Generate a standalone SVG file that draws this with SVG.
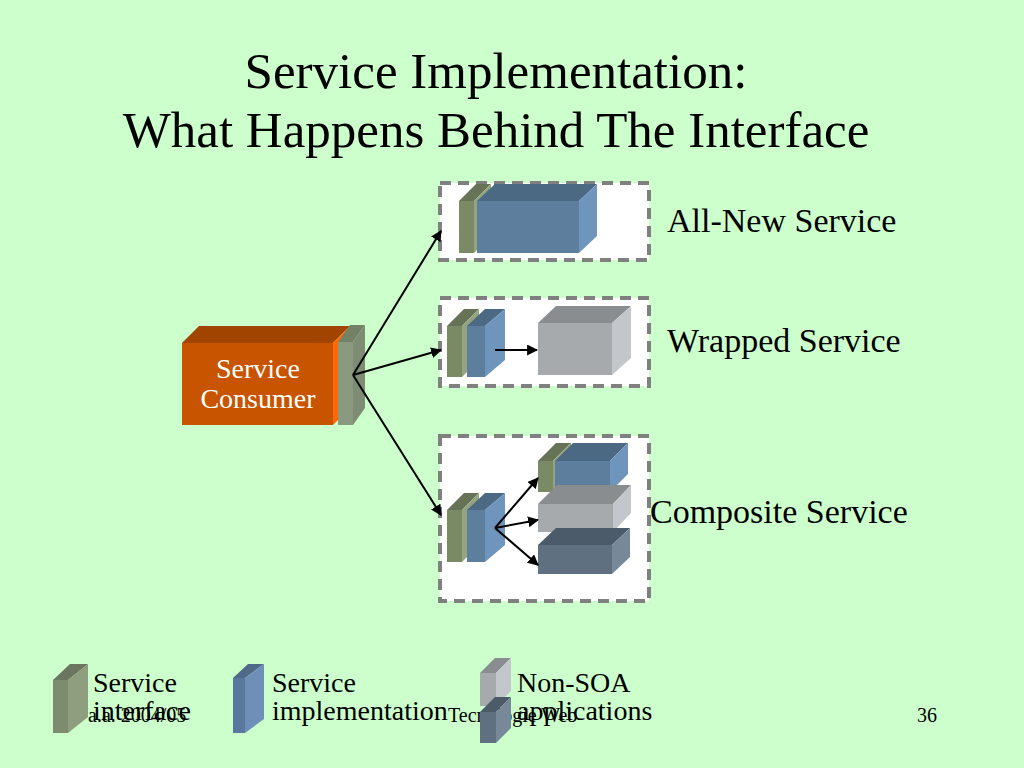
<svg xmlns="http://www.w3.org/2000/svg" width="1024" height="768" viewBox="0 0 1024 768">
<defs>
<style>
.t{font-family:"Liberation Serif","Times New Roman",serif;fill:#000}
.dash{fill:#fff;stroke:#808080;stroke-width:4;stroke-dasharray:11 7}
.conn{stroke:#000;stroke-width:2;fill:none;marker-end:url(#ah)}
.gf{fill:#7A8A64}.gt{fill:#667356}.gs{fill:#93A47E}
.bf{fill:#5E7E9E}.bt{fill:#4C6984}.bs{fill:#7095BC}
.af{fill:#A7AAAD}.at{fill:#8A8D90}.as{fill:#C3C7CB}
.df{fill:#5F7181}.dt{fill:#4B5B69}.ds{fill:#778898}
</style>
<marker id="ah" viewBox="0 0 10 10" refX="9" refY="5" markerWidth="5.5" markerHeight="5.5" orient="auto" markerUnits="strokeWidth">
<path d="M0,0 L10,5 L0,10 z" fill="#000"/>
</marker>
</defs>
<rect width="1024" height="768" fill="#CCFFCC"/>

<g id="title">
<text class="t" x="496" y="88" font-size="51" text-anchor="middle">Service Implementation:</text>
<text class="t" x="496" y="147" font-size="51" text-anchor="middle">What Happens Behind The Interface</text>
</g>

<g id="footer">
<text class="t" x="88" y="722" font-size="20">a.a. 2004/05</text>
<text class="t" x="448" y="722" font-size="20">Tecnologie Web</text>
<text class="t" x="917" y="722" font-size="20">36</text>
</g>

<g id="consumer">
<rect x="182" y="343" width="151" height="82" fill="#C85400"/>
<polygon points="182,343 199,326 350,326 333,343" fill="#A04400"/>
<polygon points="333,343 350,326 350,408 333,425" fill="#FF6A00"/>
<rect x="338" y="342" width="15" height="83" fill="#8A9A80"/>
<polygon points="338,342 350,325 365,325 353,342" fill="#738266"/>
<polygon points="353,342 365,325 365,408 353,425" fill="#7D8C72"/>
<text x="258" y="378" font-size="28" text-anchor="middle" fill="#fff" font-family="Liberation Serif, Times New Roman, serif">Service</text>
<text x="258" y="408" font-size="28" text-anchor="middle" fill="#fff" font-family="Liberation Serif, Times New Roman, serif">Consumer</text>
</g>

<g id="allnew">
<rect class="dash" x="440" y="183" width="209" height="77"/>
<rect class="gf" x="459" y="201" width="15" height="52"/>
<polygon class="gt" points="459,201 476,184 491,184 474,201"/>
<polygon class="gs" points="474,201 491,184 491,236 474,253"/>
<rect class="bf" x="477" y="201" width="102" height="52"/>
<polygon class="bt" points="477,201 495,184 597,184 579,201"/>
<polygon class="bs" points="579,201 597,184 597,236 579,253"/>
<text class="t" x="667" y="232" font-size="34">All-New Service</text>
</g>

<g id="wrapped">
<rect class="dash" x="440" y="298" width="209" height="88"/>
<rect class="gf" x="447" y="326" width="15" height="51"/>
<polygon class="gt" points="447,326 464,309 479,309 462,326"/>
<polygon class="gs" points="462,326 479,309 479,360 462,377"/>
<rect class="bf" x="467" y="326" width="18" height="51"/>
<polygon class="bt" points="467,326 485,309 505,309 485,326"/>
<polygon class="bs" points="485,326 505,309 505,360 485,377"/>
<rect class="af" x="538" y="323" width="74" height="52"/>
<polygon class="at" points="538,323 556,306 631,306 612,323"/>
<polygon class="as" points="612,323 631,306 631,358 612,375"/>
<text class="t" x="667" y="352" font-size="34">Wrapped Service</text>
</g>

<g id="composite">
<rect class="dash" x="440" y="436" width="209" height="165"/>
<rect class="gf" x="447" y="510" width="15" height="52"/>
<polygon class="gt" points="447,510 464,493 479,493 462,510"/>
<polygon class="gs" points="462,510 479,493 479,545 462,562"/>
<rect class="bf" x="467" y="510" width="18" height="52"/>
<polygon class="bt" points="467,510 485,493 505,493 485,510"/>
<polygon class="bs" points="485,510 505,493 505,545 485,562"/>
<rect class="gf" x="538" y="461" width="15" height="31"/>
<polygon class="gt" points="538,461 556,443 571,443 553,461"/>
<polygon class="gs" points="553,461 571,443 571,474 553,492"/>
<rect class="bf" x="555" y="461" width="55" height="31"/>
<polygon class="bt" points="555,461 573,443 628,443 610,461"/>
<polygon class="bs" points="610,461 628,443 628,474 610,492"/>
<rect class="af" x="538" y="504" width="75" height="28"/>
<polygon class="at" points="538,504 557,485 631,485 613,504"/>
<polygon class="as" points="613,504 631,485 631,513 613,532"/>
<rect class="df" x="538" y="545" width="74" height="29"/>
<polygon class="dt" points="538,545 556,528 630,528 612,545"/>
<polygon class="ds" points="612,545 630,528 630,557 612,574"/>
<text class="t" x="650" y="523" font-size="34">Composite Service</text>
</g>

<g id="connectors">
<line class="conn" x1="353" y1="375" x2="441" y2="231"/>
<line class="conn" x1="353" y1="375" x2="441" y2="350"/>
<line class="conn" x1="353" y1="375" x2="441" y2="515"/>
<line class="conn" x1="495" y1="350" x2="537" y2="350"/>
<line class="conn" x1="495" y1="528" x2="538" y2="478"/>
<line class="conn" x1="495" y1="528" x2="538" y2="520"/>
<line class="conn" x1="495" y1="528" x2="538" y2="565"/>
</g>

<g id="legend">
<rect fill="#7D8B6E" x="53" y="680" width="15" height="53"/>
<polygon fill="#6A7660" points="53,680 70,664 88,664 68,680"/>
<polygon fill="#8E9E7E" points="68,680 88,664 88,717 68,733"/>
<text class="t" x="93" y="692" font-size="28">Service</text>
<text class="t" x="93" y="720" font-size="28">interface</text>
<rect fill="#5878A0" x="233" y="678" width="12" height="55"/>
<polygon fill="#4E6A88" points="233,678 248,664 264,664 245,678"/>
<polygon fill="#6E90B8" points="245,678 264,664 264,719 245,733"/>
<text class="t" x="272" y="692" font-size="28">Service</text>
<text class="t" x="272" y="720" font-size="28">implementation</text>
<rect class="af" x="480" y="673" width="16" height="33"/>
<polygon class="at" points="480,673 495,658 511,658 496,673"/>
<polygon class="as" points="496,673 511,658 511,691 496,706"/>
<rect class="df" x="480" y="712" width="16" height="31"/>
<polygon class="dt" points="480,712 495,697 511,697 496,712"/>
<polygon class="ds" points="496,712 511,697 511,728 496,743"/>
<text class="t" x="517" y="692" font-size="28">Non-SOA</text>
<text class="t" x="517" y="720" font-size="28">applications</text>
</g>
</svg>
